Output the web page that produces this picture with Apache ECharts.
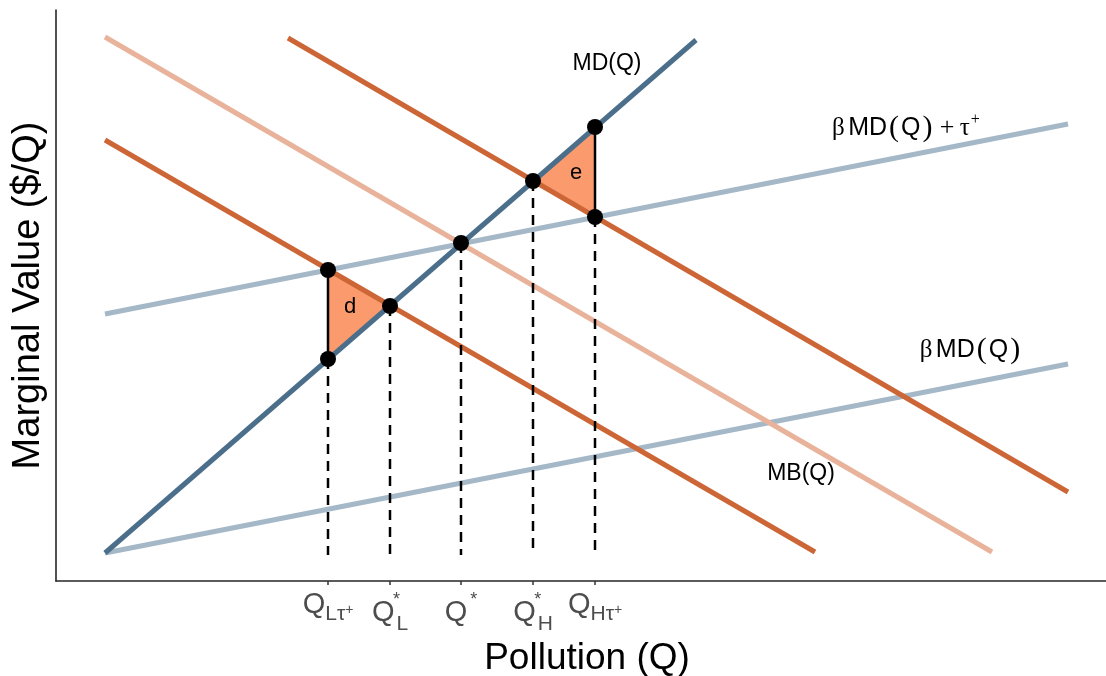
<!DOCTYPE html>
<html><head><meta charset="utf-8">
<script src="https://cdn.jsdelivr.net/npm/echarts@6/dist/echarts.min.js"></script>
<style>html,body{margin:0;padding:0;background:#fff}#c{width:1106px;height:676px}</style>
</head><body><div id="c"></div>
<script>
// ---- data (arbitrary units) ----
const mdLine        = [[49, 28], [640, 541]];
const betaMdTauLine = [[49, 267], [1012, 457]];
const betaMdLine    = [[49, 28], [1012, 217]];
const mbLine        = [[49, 544], [936, 29]];
const mbHighLine    = [[232, 543], [1012, 89]];
const mbLowLine     = [[49, 441], [759, 29]];

const tickQ      = [272, 334, 405, 477, 539];
const tickNames  = ['QLtau', 'QLstar', 'Qstar', 'QHstar', 'QHtau'];
const dashStartY = [222, 275, 338, 400, 364];
const dashEndY   = 26;

const dotPoints = [[272, 311], [272, 222], [334, 275], [405, 338], [477, 400], [539, 454], [539, 364]];
const triD  = [[272, 311], [272, 222], [334, 275]];
const triE  = [[477, 400], [539, 454], [539, 364]];
const edgeD = [[272, 311], [272, 222]];
const edgeE = [[539, 454], [539, 364]];

const curveLabels = [
  {name: 'MD', pos: [551, 517]},
  {name: 'MB', pos: [745, 107]},
  {name: 'BMDT', pos: [850, 453]},
  {name: 'BMD', pos: [915, 231]},
  {name: 'd', pos: [294, 274]},
  {name: 'e', pos: [520, 408]}
];

// ---- styles ----
const FONT = "'Liberation Sans', Arial, sans-serif";
const SERIF = "'Liberation Serif', 'Times New Roman', serif";
const C_MD = '#4b6f8b', C_LB = '#a4b8c8', C_SAL = '#e8b39a', C_OR = '#cd6636', C_FILL = '#fb9a6d';
const TICKC = '#4d4d4d';

const tickText = {
  QLtau: '{qa|Q}{sa|Lτ}{pa|+}',
  QLstar: '{qb|Q}{st0|*}{sb|L}',
  Qstar: '{qb|Q}{st|*}',
  QHstar: '{qb|Q}{st0|*}{sb|H}',
  QHtau: '{qa|Q}{sa|Hτ}{pa|+}'
};
const curveText = {
  MD: '{n|MD(Q)}',
  MB: '{n|MB(Q)}',
  BMDT: '{g|β} {m|MD}{p|(}{m|Q}{p|)} {pl|+} {g|τ}{sup|+}',
  BMD: '{g|β} {m|MD}{p|(}{m|Q}{p|)}',
  d: '{t|d}',
  e: '{t|e}'
};

function lineSeries(data, color) {
  return {type: 'line', data: data, showSymbol: false, silent: true, z: 3,
    lineStyle: {color: color, width: 5, cap: 'butt'}};
}

const series = [];
// triangle fills
series.push({
  type: 'custom', z: 2, silent: true,
  data: [[0], [1]],
  renderItem: function (params, api) {
    const tri = [triD, triE][api.value(0)];
    return {type: 'polygon', shape: {points: tri.map(p => api.coord(p))}, style: {fill: C_FILL}};
  }
});
series.push(lineSeries(betaMdLine, C_LB));
series.push(lineSeries(betaMdTauLine, C_LB));
series.push(lineSeries(mbLine, C_SAL));
series.push(lineSeries(mbLowLine, C_OR));
series.push(lineSeries(mbHighLine, C_OR));
series.push(lineSeries(mdLine, C_MD));
// vertical triangle edges
[edgeD, edgeE].forEach(function (e) {
  series.push({type: 'line', data: e, showSymbol: false, silent: true, z: 4,
    lineStyle: {color: '#000', width: 2.5}});
});
// dashed drop lines
tickQ.forEach(function (x, i) {
  series.push({type: 'line', data: [[x, dashStartY[i]], [x, dashEndY]], showSymbol: false, silent: true, z: 4,
    lineStyle: {color: '#000', width: 2.5, type: [10, 7]}});
});
// dots
series.push({type: 'scatter', data: dotPoints, symbolSize: 16, silent: true, z: 6,
  itemStyle: {color: '#000', opacity: 1}});
// curve / area labels
series.push({
  type: 'scatter', symbolSize: 0, silent: true, z: 7,
  itemStyle: {opacity: 1, color: 'rgba(0,0,0,0)'},
  data: curveLabels.map(c => ({value: c.pos, name: c.name})),
  label: {
    show: true, position: 'inside', color: '#000', opacity: 1,
    formatter: p => curveText[p.name],
    rich: {
      n: {fontSize: 23, fontFamily: FONT, color: '#000'},
      t: {fontSize: 22, fontFamily: FONT, color: '#000'},
      m: {fontSize: 25, fontFamily: FONT, color: '#000'},
      g: {fontSize: 25, fontFamily: SERIF, color: '#000'},
      pl: {fontSize: 26, fontFamily: SERIF, color: '#000', padding: [0, 2, 0, 2]},
      p: {fontSize: 30, fontFamily: SERIF, color: '#000', padding: [0, 2, 0, 2]},
      sup: {fontSize: 16, fontFamily: SERIF, color: '#000', padding: [0, 0, 16, 1]}
    }
  }
});

const chart = echarts.init(document.getElementById('c'), null, {renderer: 'canvas'});
chart.setOption({
  animation: false,
  backgroundColor: '#fff',
  grid: {left: 56, right: 0, top: 10, bottom: 95, containLabel: false, outerBoundsMode: 'none'},
  xAxis: {
    type: 'value', min: 0, max: 1050,
    name: 'Pollution (Q)', nameLocation: 'middle', nameGap: 58,
    nameTextStyle: {fontSize: 37, fontFamily: FONT, color: '#000', padding: [0, 0, 0, 12]},
    axisLine: {show: true, onZero: false, lineStyle: {color: '#262626', width: 1.6}},
    axisTick: {show: true, customValues: tickQ, length: 4, lineStyle: {color: '#333', width: 1.5}},
    splitLine: {show: false},
    axisLabel: {
      show: true, customValues: tickQ, margin: 4,
      formatter: function (v) { return tickText[tickNames[tickQ.indexOf(v)]] || ''; },
      rich: {
        qa: {fontSize: 29, lineHeight: 40, fontFamily: FONT, color: TICKC},
        qb: {fontSize: 29, lineHeight: 40, fontFamily: FONT, color: TICKC, padding: [16, 0, 0, 0]},
        sa: {fontSize: 21, lineHeight: 40, fontFamily: FONT, color: TICKC, padding: [19, 0, 0, 0]},
        sb: {fontSize: 21, lineHeight: 40, fontFamily: FONT, color: TICKC, padding: [39, 0, 0, 0]},
        pa: {fontSize: 14, lineHeight: 40, fontFamily: FONT, color: TICKC, padding: [10, 0, 0, 0]},
        st: {fontSize: 18, lineHeight: 40, fontFamily: FONT, color: TICKC, padding: [0, 0, 10, 3]},
        st0: {fontSize: 18, lineHeight: 40, fontFamily: FONT, color: TICKC, padding: [0, 0, 10, 2], width: 0}
      }
    }
  },
  yAxis: {
    type: 'value', min: 0, max: 571,
    name: 'Marginal Value ($/Q)', nameLocation: 'middle', nameGap: 8,
    nameTextStyle: {fontSize: 38, fontFamily: FONT, color: '#000', padding: [0, 0, 0, 0]},
    axisLine: {show: true, onZero: false, lineStyle: {color: '#262626', width: 1.6}},
    axisTick: {show: false}, axisLabel: {show: false}, splitLine: {show: false}
  },
  series: series
});
</script></body></html>
